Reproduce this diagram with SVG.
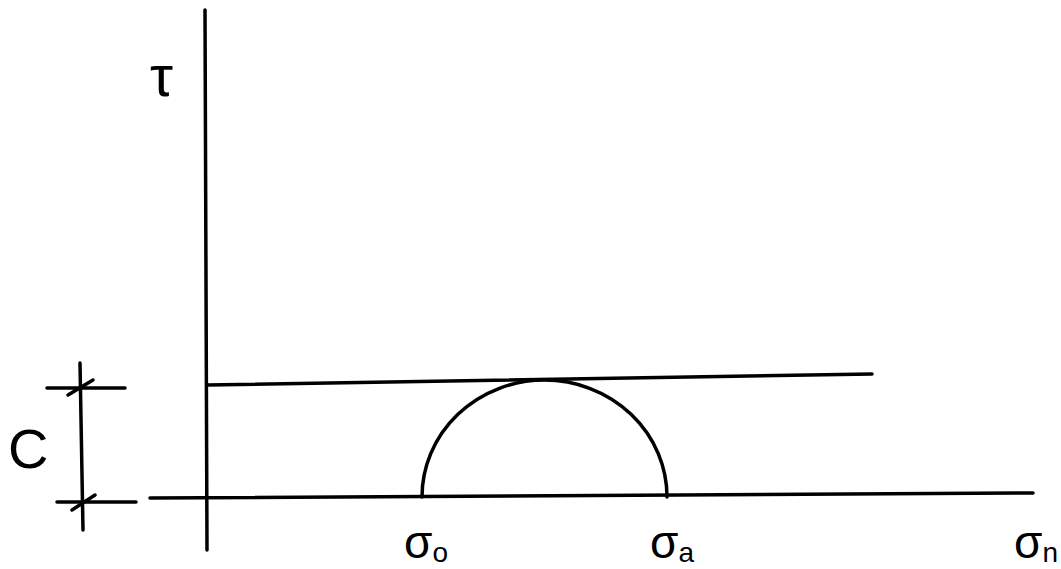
<svg xmlns="http://www.w3.org/2000/svg" width="1061" height="569" viewBox="0 0 1061 569">
<style>
.ln{stroke:#000;stroke-width:3.5;fill:none;stroke-linecap:round}
.t{font-family:"Liberation Sans",Arial,sans-serif;fill:#000}
</style>
<rect width="1061" height="569" fill="#fff"/>
<g id="connectors">
<line class="ln" x1="205" y1="10" x2="207" y2="550"/>
<line class="ln" x1="150" y1="498" x2="1033" y2="493"/>
<line class="ln" x1="207" y1="385" x2="872" y2="374"/>
<path class="ln" d="M422,497 A122.5,117 0 0 1 667,497"/>
</g>
<g id="dimension">
<line class="ln" x1="80" y1="363" x2="83" y2="530"/>
<line class="ln" x1="47" y1="388" x2="125" y2="388"/>
<line class="ln" x1="68" y1="395" x2="93" y2="380"/>
<line class="ln" x1="57" y1="502" x2="136" y2="502"/>
<line class="ln" x1="72" y1="510" x2="95" y2="495"/>
</g>
<g id="label-tau"><text class="t" x="150" y="96" font-size="58">τ</text></g>
<g id="label-C"><text class="t" x="8" y="468" font-size="56">C</text></g>
<g id="label-s0"><text class="t" x="404" y="558" font-size="46">σ<tspan font-size="28" dy="4">o</tspan></text></g>
<g id="label-sa"><text class="t" x="650" y="558" font-size="46">σ<tspan font-size="28" dy="4">a</tspan></text></g>
<g id="label-sn"><text class="t" x="1014" y="558" font-size="46">σ<tspan font-size="28" dy="4">n</tspan></text></g>
</svg>
